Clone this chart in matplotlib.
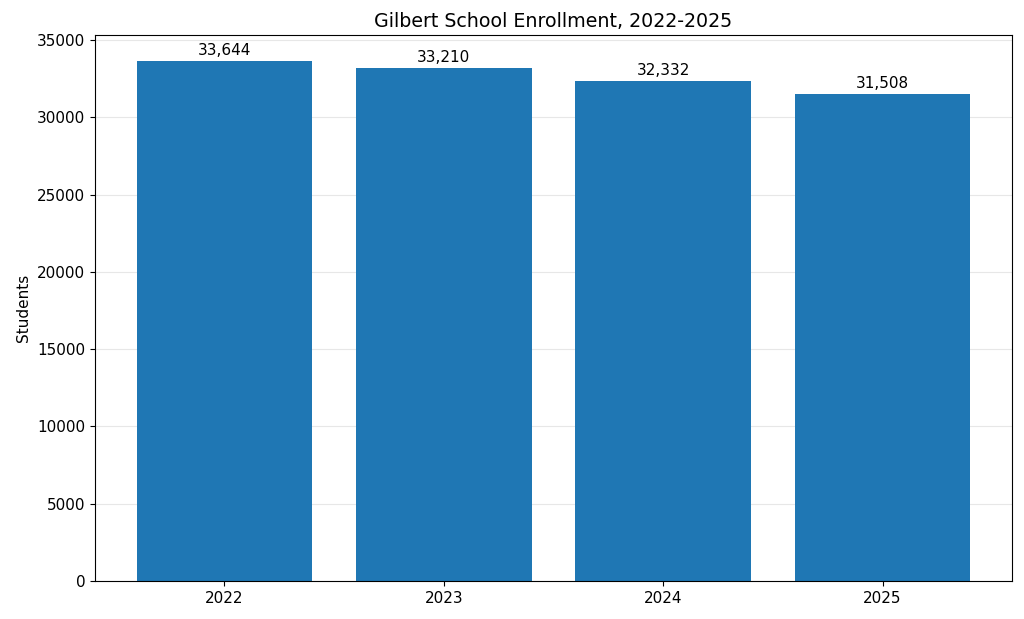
import matplotlib
matplotlib.use("Agg")
import matplotlib.pyplot as plt

years = ["2022", "2023", "2024", "2025"]
students = [33644, 33210, 32332, 31508]


def draw():
    fig, ax = plt.subplots(figsize=(10.24, 6.19), dpi=100)
    bars = ax.bar(years, students, color="#1f77b4")
    ax.bar_label(bars, labels=[f"{v:,}" for v in students], padding=2, fontsize=11)
    ax.set_title("Gilbert School Enrollment, 2022-2025", fontsize=13.7)
    ax.set_ylabel("Students", fontsize=11)
    ax.tick_params(labelsize=11)
    ax.yaxis.grid(True, alpha=0.3)
    ax.set_axisbelow(True)
    fig.subplots_adjust(left=0.0928, right=0.9883, top=0.9435, bottom=0.0614)
    fig.savefig("out.png")


if __name__ == "__main__":
    draw()
